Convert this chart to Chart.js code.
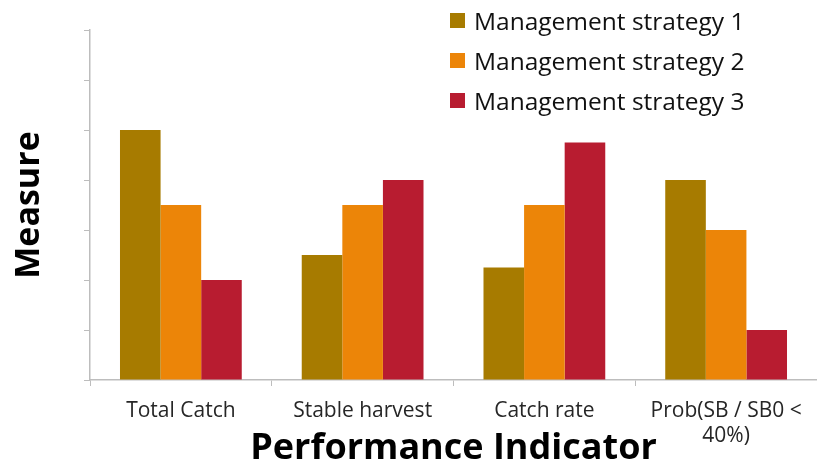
<!DOCTYPE html>
<html>
<head>
<meta charset="utf-8">
<script src="https://cdn.jsdelivr.net/npm/chart.js@4"></script>
<style>
  html, body { margin:0; padding:0; background:#fff; }
  .wrap { position:relative; width:817px; height:471px; }
  canvas { display:block; }
  .legend { position:absolute; left:450px; top:0px; font-family:"Open Sans", sans-serif; font-size:24.5px; color:#111; }
  .legend .item { display:flex; align-items:center; height:40px; }
  .legend .sw { width:15px; height:15px; margin-right:9px; }
</style>
</head>
<body>
<div class="wrap">
  <canvas id="c" width="817" height="471"></canvas>
  <div class="legend" id="legend"></div>
</div>
<script>
(function(){
  const categories = ['Total Catch', 'Stable harvest', 'Catch rate', ['Prob(SB / SB0 <', '40%)']];
  const seriesNames = ['Management strategy 1', 'Management strategy 2', 'Management strategy 3'];
  const strategy1 = [5, 2.5, 2.25, 4];
  const strategy2 = [3.5, 3.5, 3.5, 3];
  const strategy3 = [2, 4, 4.75, 1];
  const yTicks = [0, 1, 2, 3, 4, 5, 6, 7];
  const colors = ['#a77b00', '#ec8508', '#b81c30'];

  const values = [strategy1, strategy2, strategy3];
  const datasets = values.map((v, i) => ({
    label: seriesNames[i], data: v, backgroundColor: colors[i],
    barPercentage: 1, categoryPercentage: 0.67
  }));

  // html legend (sits over the plot, top right)
  const legend = document.getElementById('legend');
  seriesNames.forEach((n, i) => {
    const it = document.createElement('div'); it.className = 'item';
    it.innerHTML = `<span class="sw" style="background:${colors[i]}"></span><span>${n}</span>`;
    legend.appendChild(it);
  });

  new Chart(document.getElementById('c'), {
    type: 'bar',
    data: { labels: categories, datasets },
    options: {
      responsive: false, animation: false,
      layout: { padding: { top: 30, right: 0, left: 0, bottom: 0 } },
      plugins: { legend: { display: false }, tooltip: { enabled: false } },
      scales: {
        x: {
          afterFit: s => { s.height = 91; },
          grid: { offset: true, drawOnChartArea: false, drawTicks: true, tickLength: 6, color: '#bdbdbd' },
          border: { color: '#bdbdbd', width: 1.5 },
          ticks: { padding: 12, color: '#262626', font: { family: 'Open Sans', size: 21, lineHeight: 1.2 }, maxRotation: 0, autoSkip: false },
          title: { display: true, text: 'Performance Indicator', color: '#000', padding: { top: 0, bottom: 1 },
                   font: { family: 'Open Sans', size: 36, weight: 'bold' } }
        },
        y: {
          min: 0, max: 7,
          afterFit: s => { s.width = 90; },
          afterBuildTicks: s => { s.ticks = yTicks.map(v => ({ value: v })); },
          grid: { drawOnChartArea: false, drawTicks: true, tickLength: 6, color: '#bdbdbd' },
          border: { color: '#bdbdbd', width: 1.5 },
          ticks: { display: false },
          title: { display: true, text: 'Measure', color: '#000', padding: { top: 9, bottom: 0 },
                   font: { family: 'Open Sans', size: 34, weight: 'bold' } }
        }
      }
    }
  });
})();
</script>
</body>
</html>
